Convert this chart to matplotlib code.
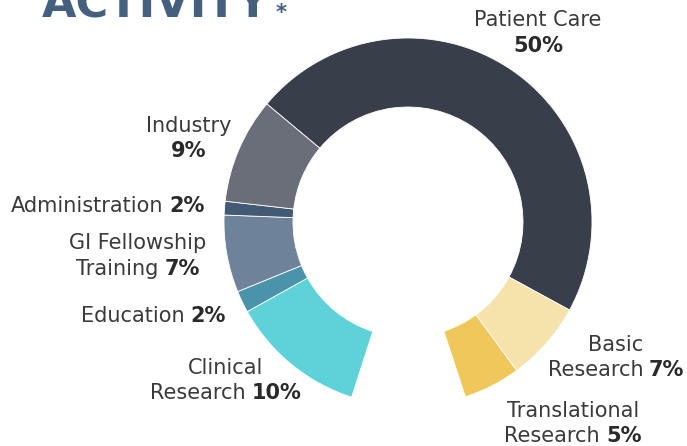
import matplotlib
matplotlib.use("Agg")
import matplotlib.pyplot as plt
from matplotlib.transforms import IdentityTransform

# wedges clockwise from the top-left, arc sizes (degrees)
names = ["Patient Care", "Basic Research", "Translational Research", "gap",
         "Clinical Research", "Education", "GI Fellowship Training",
         "Administration", "Industry"]
arc_deg = [168.6, 25.2, 18.0, 36.0, 43.0, 6.9, 24.4, 4.3, 33.4]
colors = ["#393e4b", "#f6e3ab", "#f0c75b", "none", "#5dd2d9", "#4a93ab",
          "#6e8399", "#425a73", "#6a6e79"]

# label lines: (x centre/edge px, baseline px, align, [(text, bold), ...])
label_lines = [
    (538, 26, "center", [("Patient Care", False)]),
    (538, 52, "center", [("50%", True)]),
    (189, 132, "center", [("Industry", False)]),
    (189, 157, "center", [("9%", True)]),
    (205, 212, "right", [("Administration", False), ("2%", True)]),
    (138, 249, "center", [("GI Fellowship", False)]),
    (138, 275, "center", [("Training", False), ("7%", True)]),
    (226, 322, "right", [("Education", False), ("2%", True)]),
    (226, 374, "center", [("Clinical", False)]),
    (226, 399, "center", [("Research", False), ("10%", True)]),
    (616, 351, "center", [("Basic", False)]),
    (616, 376, "center", [("Research", False), ("7%", True)]),
    (573, 417, "center", [("Translational", False)]),
    (573, 442, "center", [("Research", False), ("5%", True)]),
]

W, H = 687, 446
FS = 15
fig = plt.figure(figsize=(W / 100, H / 100), dpi=100)

# donut: centre (408, 222) px, radius 184 px
cx, cy, R = 408, 222, 184
ax = fig.add_axes([(cx - R) / W, 1 - (cy + R) / H, 2 * R / W, 2 * R / H])
wedges, _ = ax.pie(arc_deg, colors=colors, startangle=140.1, counterclock=False,
                   radius=1, wedgeprops=dict(width=0.375, edgecolor="white", linewidth=0.6))
for w, c in zip(wedges, colors):
    if c == "none":
        w.set_visible(False)
ax.set_xlim(-1, 1)
ax.set_ylim(-1, 1)
ax.set_aspect("equal")
ax.axis("off")

renderer = fig.canvas.get_renderer()
ident = IdentityTransform()


def put_line(x, y, align, parts, gap=6):
    texts = []
    for s, bold in parts:
        t = fig.text(0, H - y, s, fontsize=FS, transform=ident,
                     fontweight="bold" if bold else "normal",
                     color="#2a2a2a" if bold else "#3a3a3a", va="baseline")
        texts.append(t)
    widths = [t.get_window_extent(renderer).width for t in texts]
    total = sum(widths) + gap * (len(texts) - 1)
    if align == "center":
        x0 = x - total / 2
    elif align == "right":
        x0 = x - total
    else:
        x0 = x
    for t, w in zip(texts, widths):
        t.set_x(x0)
        x0 += w + gap


for x, y, align, parts in label_lines:
    put_line(x, y, align, parts)

# heading, cut off at the top edge as in the source graphic
fig.text(42, H - 17, "ACTIVITY", transform=ident, fontsize=32, fontweight="bold",
         color="#44607e", va="baseline")
fig.text(276, H - 19, "*", transform=ident, fontsize=15, fontweight="bold",
         color="#44607e", va="baseline")

fig.savefig("out.png", dpi=100)
